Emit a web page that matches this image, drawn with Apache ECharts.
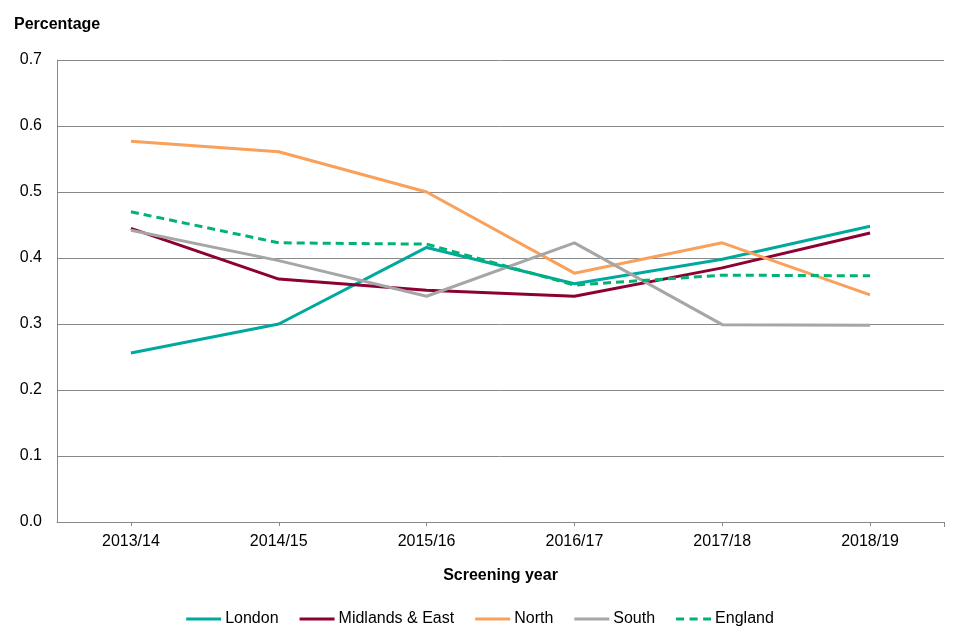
<!DOCTYPE html>
<html><head><meta charset="utf-8">
<script src="https://cdn.jsdelivr.net/npm/echarts@6/dist/echarts.min.js"></script>
<style>html,body{margin:0;padding:0;background:#fff}#c{width:960px;height:640px}</style>
</head><body><div id="c"></div>
<script>
const categories = ['2013/14','2014/15','2015/16','2016/17','2017/18','2018/19'];
const london = [0.256, 0.300, 0.416, 0.361, 0.398, 0.448];
const midlands = [0.445, 0.368, 0.351, 0.342, 0.385, 0.438];
const north = [0.577, 0.561, 0.500, 0.377, 0.423, 0.344];
const south = [0.442, 0.396, 0.342, 0.423, 0.299, 0.298];
const england = [0.470, 0.423, 0.421, 0.359, 0.374, 0.373];
const font = 'Liberation Sans, Arial, sans-serif';
function line(name, data, color, dashed){
  return {name, type:'line', data, symbol:'none', smooth:false,
    lineStyle:{color, width:3, type: dashed ? [8,5] : 'solid'}, itemStyle:{color}};
}
const chart = echarts.init(document.getElementById('c'));
chart.setOption({
  animation:false,
  textStyle:{fontFamily:font},
  graphic:[
    {type:'text', left:14, top:17, style:{text:'Percentage', font:'bold 16px '+font, fill:'#000'}},
    {type:'line', shape:{x1:944.5, y1:522, x2:944.5, y2:527}, style:{stroke:'#888', lineWidth:1}}
  ],
  grid:{left:57, right:16, top:60, bottom:118},
  legend:{bottom:8, left:'center', itemWidth:35, itemHeight:3, itemGap:21, icon:'rect',
    textStyle:{fontSize:16, color:'#000', fontFamily:font, padding:[0,0,0,-1]},
    data:[{name:'London'},{name:'Midlands & East'},{name:'North'},{name:'South'},
      {name:'England', icon:'path://M0,0H8V3H0Z M13.5,0H21.5V3H13.5Z M27,0H35V3H27Z'}]},
  xAxis:{type:'category', data:categories, boundaryGap:true,
    name:'Screening year', nameLocation:'middle', nameGap:46,
    nameTextStyle:{fontWeight:'bold', fontSize:16, color:'#000', fontFamily:font},
    axisLine:{lineStyle:{color:'#888', width:1}},
    axisTick:{show:true, alignWithLabel:true, length:4, lineStyle:{color:'#888'}},
    axisLabel:{fontSize:16, color:'#000', margin:12}},
  yAxis:{type:'value', min:0, max:0.7, interval:0.1,
    axisLine:{show:true, lineStyle:{color:'#888'}},
    axisTick:{show:false},
    axisLabel:{fontSize:16, color:'#000', margin:15, formatter:v=>v.toFixed(1)},
    splitLine:{lineStyle:{color:'#888', width:1}}},
  series:[
    line('London', london, '#00A99D'),
    line('Midlands & East', midlands, '#8C0034'),
    line('North', north, '#F9A05A'),
    line('South', south, '#A6A6A8'),
    line('England', england, '#00B274', true)
  ]
});
</script></body></html>
